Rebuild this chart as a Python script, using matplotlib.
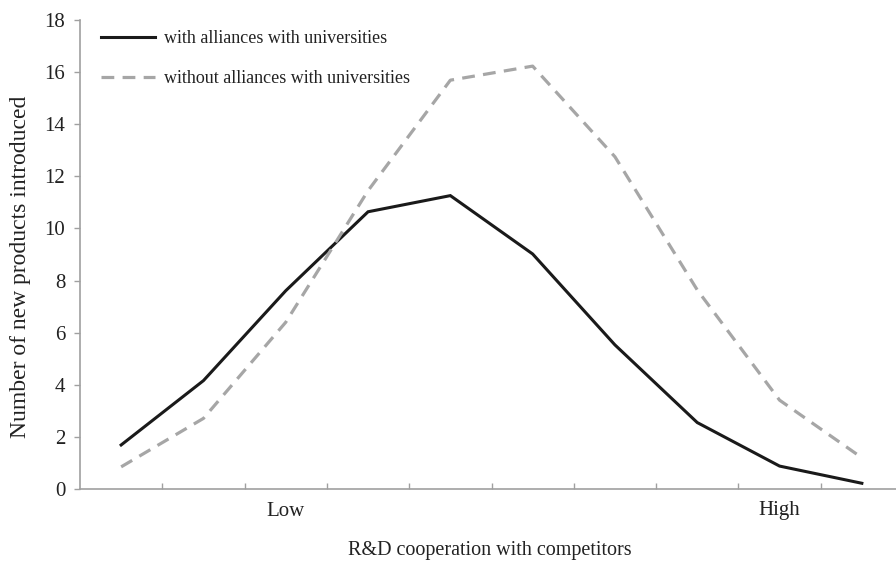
import matplotlib
matplotlib.use("Agg")
import matplotlib.pyplot as plt

categories = list(range(10))
cat_labels = ["", "", "Low", "", "", "", "", "", "High", ""]
with_univ = [1.69, 4.16, 7.61, 10.64, 11.26, 9.02, 5.53, 2.55, 0.88, 0.22]
without_univ = [0.85, 2.71, 6.4, 11.45, 15.69, 16.23, 12.75, 7.64, 3.41, 1.2]
series_names = ["with alliances with universities", "without alliances with universities"]
y_ticks = [0, 2, 4, 6, 8, 10, 12, 14, 16, 18]

plt.rcParams['font.family'] = ['Liberation Serif', 'DejaVu Serif']

fig = plt.figure(figsize=(8.96, 5.62), dpi=100)
ax = fig.add_axes([80/896, 1-489/562, (903-80)/896, (489-20)/562])

ax.plot(categories, with_univ, color='#1a1a1a', lw=2.2, label=series_names[0], solid_joinstyle='miter')
ax.plot(categories, without_univ, color='#a6a6a6', lw=2.3, linestyle=(0, (4, 2.6)),
        label=series_names[1])

ax.set_xlim(-0.5, 9.5)
ax.set_ylim(0, 18)
ax.set_yticks(y_ticks)
ax.set_yticklabels([str(v) for v in y_ticks], fontsize=15, color='#222222')

ax.set_xticks([c + 0.5 for c in categories[:-1]])
ax.set_xticklabels([])
ax.set_xticks(categories, minor=True)
ax.set_xticklabels(cat_labels, minor=True, fontsize=15, color='#222222')
ax.tick_params(axis='x', which='major', direction='in', length=4, color='#a0a0a0', width=1)
ax.tick_params(axis='x', which='minor', length=0, pad=9)
ax.tick_params(axis='y', direction='out', length=4, color='#a0a0a0', width=1, pad=6.5)

for s in ['top', 'right']:
    ax.spines[s].set_visible(False)
for s in ['left', 'bottom']:
    ax.spines[s].set_color('#a0a0a0')
    ax.spines[s].set_linewidth(1.2)

ax.set_xlabel("R&D cooperation with competitors", fontsize=14.5, color='#222222', va='center')
ax.xaxis.set_label_coords((490 - 80) / 823, (489 - 551) / 469)
ax.set_ylabel("Number of new products introduced", fontsize=17, color='#222222', va='center')
ax.yaxis.set_label_coords((21 - 80) / 823, (489 - 266.5) / 469)

leg = ax.legend(loc='upper left', bbox_to_anchor=(0.0135, 1.0), frameon=False, fontsize=13,
                handlelength=3.0, handletextpad=0.5, labelspacing=1.3, borderaxespad=0.15)
for t in leg.get_texts():
    t.set_color('#222222')

fig.savefig("out.png", dpi=100)
